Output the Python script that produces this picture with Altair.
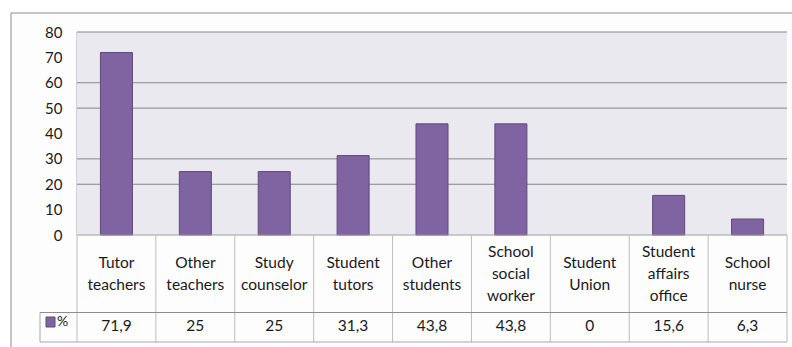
import altair as alt
import pandas as pd

# --- data -------------------------------------------------------------------
categories = [
    "Tutor teachers", "Other teachers", "Study counselor", "Student tutors",
    "Other students", "School social worker", "Student Union",
    "Student affairs office", "School nurse",
]
category_lines = [
    "Tutor\nteachers", "Other\nteachers", "Study\ncounselor", "Student\ntutors",
    "Other\nstudents", "School\nsocial\nworker", "Student\nUnion",
    "Student\naffairs\noffice", "School\nnurse",
]
values = [71.9, 25, 25, 31.3, 43.8, 43.8, 0, 15.6, 6.3]
y_ticks = [0, 10, 20, 30, 40, 50, 60, 70, 80]
grid_values = [20, 30, 50, 60, 80]
series_name = "%"

df = pd.DataFrame({
    "category": categories,
    "label": category_lines,
    "nlines": [s.count("\n") + 1 for s in category_lines],
    "value": values,
    "value_text": [f"{v:g}".replace(".", ",") for v in values],
})
grid_df = pd.DataFrame({"g": grid_values})
one = pd.DataFrame({"k": [0]})

# --- layout ------------------------------------------------------------------
W, H = 710, 203            # plot area
ROW_SPLIT = 280.5          # line between label row and value row
TABLE_BOTTOM = 310
LEG_LEFT = -37
LABEL_MID = 242
LINE_H = 22
FONT = "Lato"
TEXT = "#1a1a1a"
BAR = "#8064A2"
BAR_EDGE = "#5E4A7C"

bar_x = alt.X("category:N", sort=categories, axis=None,
              scale=alt.Scale(domain=categories, paddingInner=0.594, paddingOuter=0.297))


def cell_x(pos=0.5):
    return alt.X("category:N", sort=categories, axis=None, bandPosition=pos,
                 scale=alt.Scale(domain=categories, paddingInner=0, paddingOuter=0))


y_scale = alt.Scale(domain=[0, 80], nice=False, zero=True)
y_axis = alt.Axis(values=y_ticks, grid=False, domain=False, ticks=False,
                  labelPadding=15, labelFont=FONT, labelFontSize=15,
                  labelColor=TEXT, labelBaseline="middle", zindex=2)

frame = alt.Chart(one).mark_rect(fill="#FDFDFD", stroke="#8C8C8C", strokeWidth=1).encode(
    x=alt.value(-66), x2=alt.value(730), y=alt.value(-19), y2=alt.value(330)
)

plot_bg = alt.Chart(one).mark_rect(fill="#EBE9F0").encode(
    x=alt.value(0), x2=alt.value(W), y=alt.value(0), y2=alt.value(H)
)
plot_left = alt.Chart(one).mark_rule(color="#D4D4D4", strokeWidth=1).encode(
    x=alt.value(-0.5), y=alt.value(0), y2=alt.value(H)
)

grid = alt.Chart(grid_df).mark_rule(color="#878787", strokeWidth=1).encode(
    y=alt.Y("g:Q", scale=y_scale, title=None, axis=y_axis),
    x=alt.value(0), x2=alt.value(W),
)

bars = alt.Chart(df).mark_bar(color=BAR, stroke=BAR_EDGE, strokeWidth=1).encode(
    x=bar_x,
    y=alt.Y("value:Q", scale=y_scale, title=None, axis=y_axis),
    strokeOpacity=alt.condition("datum.value > 0", alt.value(1), alt.value(0)),
)

# --- data table below the plot ---------------------------------------------
table_top = alt.Chart(one).mark_rule(color="#9E9E9E").encode(
    x=alt.value(0), x2=alt.value(W), y=alt.value(H)
)
cell_lines = alt.Chart(df).mark_rule(color="#BDBDBD").encode(
    x=cell_x(0), y=alt.value(H), y2=alt.value(TABLE_BOTTOM)
)
right_line = alt.Chart(one).mark_rule(color="#BDBDBD").encode(
    x=alt.value(W), y=alt.value(H), y2=alt.value(TABLE_BOTTOM)
)
row_split = alt.Chart(one).mark_rule(color="#8C8C8C").encode(
    x=alt.value(LEG_LEFT), x2=alt.value(W), y=alt.value(ROW_SPLIT)
)
bottom_line = alt.Chart(one).mark_rule(color="#A8A8A8").encode(
    x=alt.value(LEG_LEFT), x2=alt.value(W), y=alt.value(TABLE_BOTTOM)
)
legend_left = alt.Chart(one).mark_rule(color="#A8A8A8").encode(
    x=alt.value(LEG_LEFT), y=alt.value(ROW_SPLIT), y2=alt.value(TABLE_BOTTOM)
)


def label_layer(n):
    # first line placed so that the n-line block is centred in the label row
    return alt.Chart(df).transform_filter(f"datum.nlines == {n}").mark_text(
        font=FONT, fontSize=15.5, color=TEXT, align="center", baseline="middle",
        lineBreak="\n", lineHeight=LINE_H,
    ).encode(x=cell_x(), y=alt.value(LABEL_MID - (n - 1) * LINE_H / 2), text="label:N")


value_cells = alt.Chart(df).mark_text(
    font=FONT, fontSize=15.5, color=TEXT, align="center", baseline="middle",
).encode(x=cell_x(), y=alt.value(294), text="value_text:N")

swatch = alt.Chart(one).mark_rect(fill=BAR, stroke=BAR_EDGE, strokeWidth=1).encode(
    x=alt.value(-31), x2=alt.value(-22), y=alt.value(285), y2=alt.value(295)
)
series_label = alt.Chart(pd.DataFrame({"s": [series_name]})).mark_text(
    font=FONT, fontSize=14, color=TEXT, align="left", baseline="middle",
).encode(x=alt.value(-20), y=alt.value(290), text="s:N")

chart = alt.layer(
    frame, plot_bg, plot_left, grid, bars,
    table_top, cell_lines, right_line, row_split, bottom_line, legend_left,
    label_layer(2), label_layer(3), value_cells, swatch, series_label,
).resolve_scale(x="independent").properties(
    width=W, height=H,
    autosize=alt.AutoSizeParams(type="none"),
    padding={"left": 77, "top": 32, "right": 5, "bottom": 112},
    background="#FFFFFF",
).configure_view(stroke=None)

chart.save("out.html", embed_options={"renderer": "svg", "actions": False})
